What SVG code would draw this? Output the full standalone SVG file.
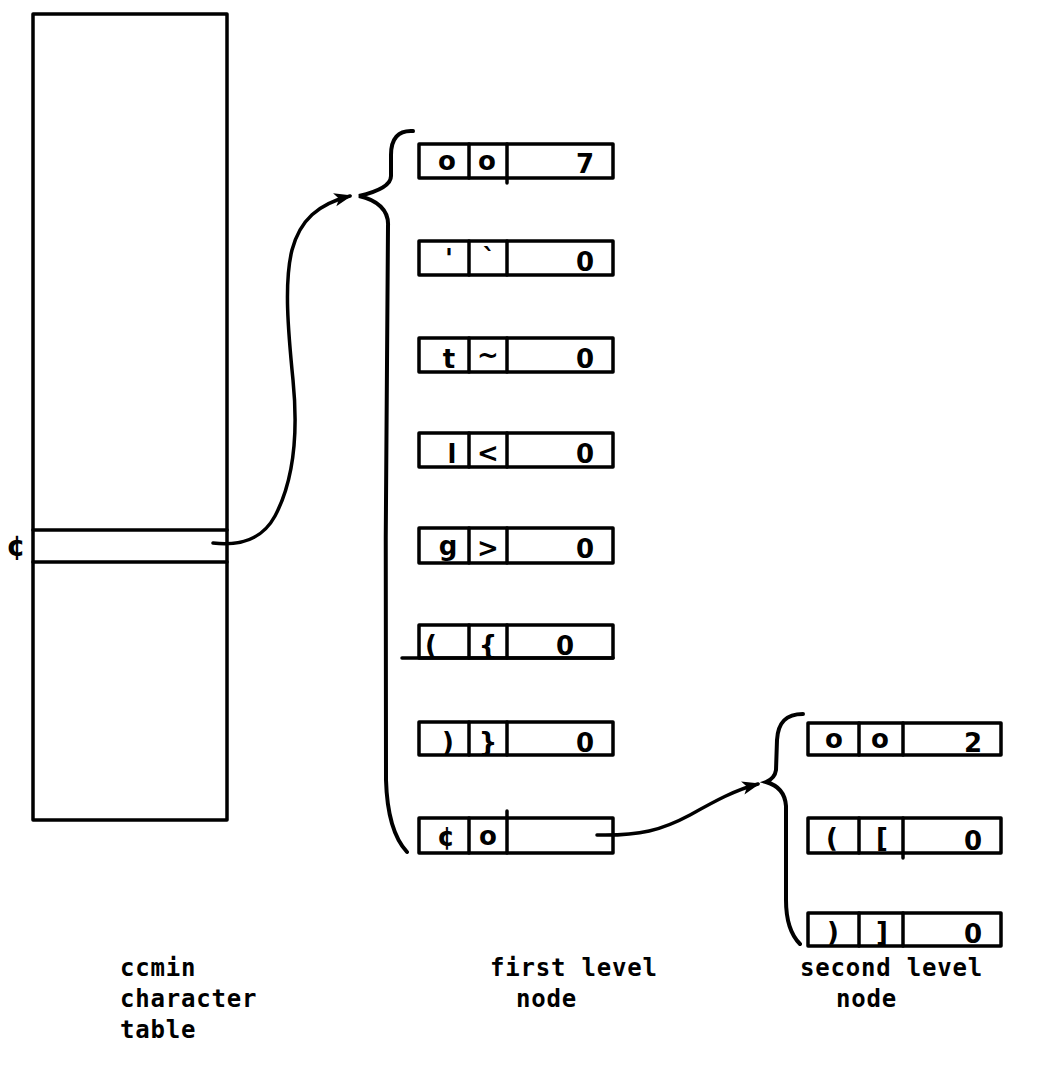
<svg xmlns="http://www.w3.org/2000/svg" width="1043" height="1082" viewBox="0 0 1043 1082">
<defs>
<style>
.ln{fill:none;stroke:#000;stroke-width:3.5;stroke-linecap:round;stroke-linejoin:round}
.br{fill:none;stroke:#000;stroke-width:4;stroke-linecap:round}
.cell{font-family:"DejaVu Sans","Liberation Sans",sans-serif;font-size:26px;font-weight:bold;fill:#000;text-anchor:middle}
.lbl{font-family:"DejaVu Sans Mono","Liberation Mono",monospace;font-size:24px;font-weight:bold;fill:#000;letter-spacing:0.8px}
</style>
<marker id="ah" viewBox="0 0 16 12" refX="14" refY="6" markerWidth="18" markerHeight="14" markerUnits="userSpaceOnUse" orient="auto">
<path d="M0,0 L16,6 L0,12 L4,6 z" fill="#000"/>
</marker>
</defs>
<rect width="1043" height="1082" fill="#fff"/>

<g id="table">
<rect class="ln" x="33" y="14" width="194" height="806"/>
<line class="ln" x1="33" y1="530" x2="227" y2="530"/>
<line class="ln" x1="33" y1="562" x2="227" y2="562"/>
<text class="cell" x="16" y="556" style="font-size:28px">¢</text>
</g>

<g id="node1-1">
<rect class="ln" x="419" y="144" width="194" height="34"/>
<line class="ln" x1="469" y1="144" x2="469" y2="178"/><line class="ln" x1="507" y1="144" x2="507" y2="183"/>
<text class="cell" x="447" y="170">o</text><text class="cell" x="487" y="170">o</text><text class="cell" x="585" y="173">7</text>
</g>
<g id="node1-2">
<rect class="ln" x="419" y="241" width="194" height="34"/>
<line class="ln" x1="469" y1="241" x2="469" y2="275"/><line class="ln" x1="507" y1="241" x2="507" y2="275"/>
<text class="cell" x="449" y="268">'</text><text class="cell" x="489" y="268">`</text><text class="cell" x="585" y="271">0</text>
</g>
<g id="node1-3">
<rect class="ln" x="419" y="338" width="194" height="34"/>
<line class="ln" x1="469" y1="338" x2="469" y2="372"/><line class="ln" x1="507" y1="338" x2="507" y2="372"/>
<text class="cell" x="449" y="368">t</text><text class="cell" x="488" y="364">~</text><text class="cell" x="585" y="368">0</text>
</g>
<g id="node1-4">
<rect class="ln" x="419" y="433" width="194" height="34"/>
<line class="ln" x1="469" y1="433" x2="469" y2="467"/><line class="ln" x1="507" y1="433" x2="507" y2="467"/>
<text class="cell" x="452" y="463">l</text><text class="cell" x="488" y="462">&lt;</text><text class="cell" x="585" y="463">0</text>
</g>
<g id="node1-5">
<rect class="ln" x="419" y="528" width="194" height="35"/>
<line class="ln" x1="469" y1="528" x2="469" y2="563"/><line class="ln" x1="507" y1="528" x2="507" y2="563"/>
<text class="cell" x="448" y="555">g</text><text class="cell" x="488" y="557">&gt;</text><text class="cell" x="585" y="558">0</text>
</g>
<g id="node1-6">
<rect class="ln" x="419" y="625" width="194" height="33"/>
<line class="ln" x1="402" y1="658" x2="613" y2="658"/>
<line class="ln" x1="469" y1="625" x2="469" y2="658"/><line class="ln" x1="507" y1="625" x2="507" y2="658"/>
<text class="cell" x="431" y="654">(</text><text class="cell" x="488" y="654">{</text><text class="cell" x="565" y="655">0</text>
</g>
<g id="node1-7">
<rect class="ln" x="419" y="722" width="194" height="33"/>
<line class="ln" x1="469" y1="722" x2="469" y2="755"/><line class="ln" x1="507" y1="722" x2="507" y2="755"/>
<text class="cell" x="448" y="751">)</text><text class="cell" x="488" y="751">}</text><text class="cell" x="585" y="752">0</text>
</g>
<g id="node1-8">
<rect class="ln" x="419" y="818" width="194" height="35"/>
<line class="ln" x1="469" y1="818" x2="469" y2="853"/><line class="ln" x1="507" y1="811" x2="507" y2="853"/>
<text class="cell" x="446" y="846">¢</text><text class="cell" x="488" y="845">o</text>
</g>

<g id="node2-1">
<rect class="ln" x="808" y="723" width="193" height="32"/>
<line class="ln" x1="859" y1="723" x2="859" y2="755"/><line class="ln" x1="903" y1="723" x2="903" y2="755"/>
<text class="cell" x="834" y="748">o</text><text class="cell" x="880" y="748">o</text><text class="cell" x="973" y="752">2</text>
</g>
<g id="node2-2">
<rect class="ln" x="808" y="818" width="193" height="35"/>
<line class="ln" x1="859" y1="818" x2="859" y2="853"/><line class="ln" x1="903" y1="818" x2="903" y2="858"/>
<text class="cell" x="832" y="847">(</text><text class="cell" x="882" y="847">[</text><text class="cell" x="973" y="850">0</text>
</g>
<g id="node2-3">
<rect class="ln" x="808" y="913" width="193" height="33"/>
<line class="ln" x1="859" y1="913" x2="859" y2="946"/><line class="ln" x1="903" y1="913" x2="903" y2="946"/>
<text class="cell" x="833" y="941">)</text><text class="cell" x="882" y="941">]</text><text class="cell" x="973" y="943">0</text>
</g>

<g id="connectors">
<path class="br" d="M413,131 C398,130 391,139 391,155 L391,176 C391,186 376,192 359,196 C377,200 389,210 388,226 C386,400 385,600 386,780 C387,815 394,838 407,852"/>
<path class="br" d="M803,714 C786,714 778,722 777,740 L776,770 C775,777 771,780 766,782 C777,785 785,792 786,806 L786,900 C786,922 791,935 800,944"/>
<path class="ln" marker-end="url(#ah)" d="M213,543 C240,546 262,540 275,516 C294,480 298,430 293,380 C288,330 284,282 292,250 C300,220 318,204 350,196"/>
<path class="ln" marker-end="url(#ah)" d="M597,835 C640,836 662,830 690,815 C715,801 735,790 758,784"/>
</g>

<g id="labels">
<text class="lbl" x="120" y="976">ccmin</text>
<text class="lbl" x="120" y="1007">character</text>
<text class="lbl" x="120" y="1038">table</text>
<text class="lbl" x="490" y="976">first level</text>
<text class="lbl" x="516" y="1007">node</text>
<text class="lbl" x="800" y="976">second level</text>
<text class="lbl" x="836" y="1007">node</text>
</g>
</svg>
